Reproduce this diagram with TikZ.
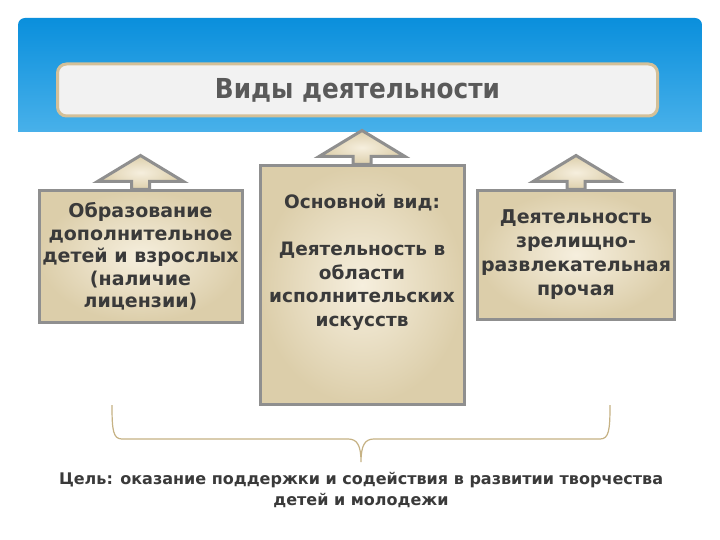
\documentclass[tikz,border=0pt]{standalone}
\usepackage{fontspec}
\setmainfont{DejaVu Sans}
\newfontfamily\titlefont{DejaVu Sans Condensed}
\usetikzlibrary{positioning, calc}
\definecolor{nebo}{RGB}{10,143,220}
\definecolor{nebosvet}{RGB}{82,182,236}
\definecolor{pesok}{RGB}{220,206,170}
\definecolor{peskosvet}{RGB}{246,239,222}
\definecolor{ramka}{RGB}{143,143,143}
\definecolor{zoloto}{RGB}{212,192,152}
\definecolor{tekst}{RGB}{58,58,58}
\definecolor{zagolovok}{RGB}{90,90,90}
\definecolor{skobka}{RGB}{198,178,132}

\tikzset{
    vidbox/.style={draw=ramka, line width=3pt, inner color=peskosvet, outer color=pesok,
        align=center, text=tekst, font=\bfseries\fontsize{19}{22.5}\selectfont},
    vidtext/.style={align=center, text=tekst, inner sep=0pt,
        font=\bfseries\fontsize{18.5}{23.5}\selectfont},
    vidarrow/.style={draw=ramka, line width=3pt, inner color=peskosvet, outer color=pesok,
        line join=miter},
    skobkaline/.style={draw=skobka, line width=1.2pt},
}
\newcommand{\strelka}[1]{%
    \path[vidarrow] ($(#1.north)+(-9,0)$) -- ++(0,-8) -- ++(-34,0)
        -- ($(#1.north)+(0,-34)$) -- ($(#1.north)+(43,-8)$) -- ++(-34,0) -- ++(0,8) -- cycle;}

\begin{document}
\begin{tikzpicture}[x=1pt, y=-1pt]
        \useasboundingbox (0,0) rectangle (720,540);
        \fill[white] (0,0) rectangle (720,540);
        \begin{scope}
            \clip (18,18) rectangle (702,132);
            \shade[top color=nebo, bottom color=nebosvet, rounded corners=7pt] (18,18) rectangle (702,150);
        \end{scope}
        \node[draw=zoloto, line width=3pt, fill=black!5, rounded corners=9pt,
            minimum width=600pt, minimum height=52pt, text=zagolovok,
            font=\titlefont\bfseries\fontsize{27.5}{30}\selectfont] (vidy) at (357.5,90) {Виды деятельности};

        \node[vidbox, minimum width=203pt, minimum height=131pt] (obraz) at (140.5,256.5)
            {Образование\\дополнительное\\детей и взрослых\\(наличие\\лицензии)};
        \node[vidbox, minimum width=204pt, minimum height=238pt] (osn) at (362,285) {};
        \node[vidbox, minimum width=196pt, minimum height=128pt, font=\bfseries\fontsize{19}{24}\selectfont] (zrel) at (576,255)
            {Деятельность\\зрелищно-\\развлекательная\\прочая};
        \node[vidtext, below=30pt of osn.north] (osntext)
            {Основной вид:\\[23.5pt]Деятельность в\\области\\исполнительских\\искусств};
        \strelka{obraz}
        \strelka{osn}
        \strelka{zrel}

        \coordinate (skL) at (112,405);
        \coordinate (skR) at (610,405);
        \coordinate (skT) at (361,462);
        \draw[skobkaline] (skL) .. controls (112,430) and (113,439) .. (122,439) -- (348,439)
            .. controls (357,439) and (361,445) .. (skT)
            .. controls (361,445) and (365,439) .. (374,439) -- (600,439)
            .. controls (609,439) and (610,430) .. (skR);

        \node[align=center, text=tekst, font=\bfseries\fontsize{16}{21.5}\selectfont] (cel) at (361,490)
            {Цель: оказание поддержки и содействия в развитии творчества\\детей и молодежи};
    \end{tikzpicture}
\end{document}
